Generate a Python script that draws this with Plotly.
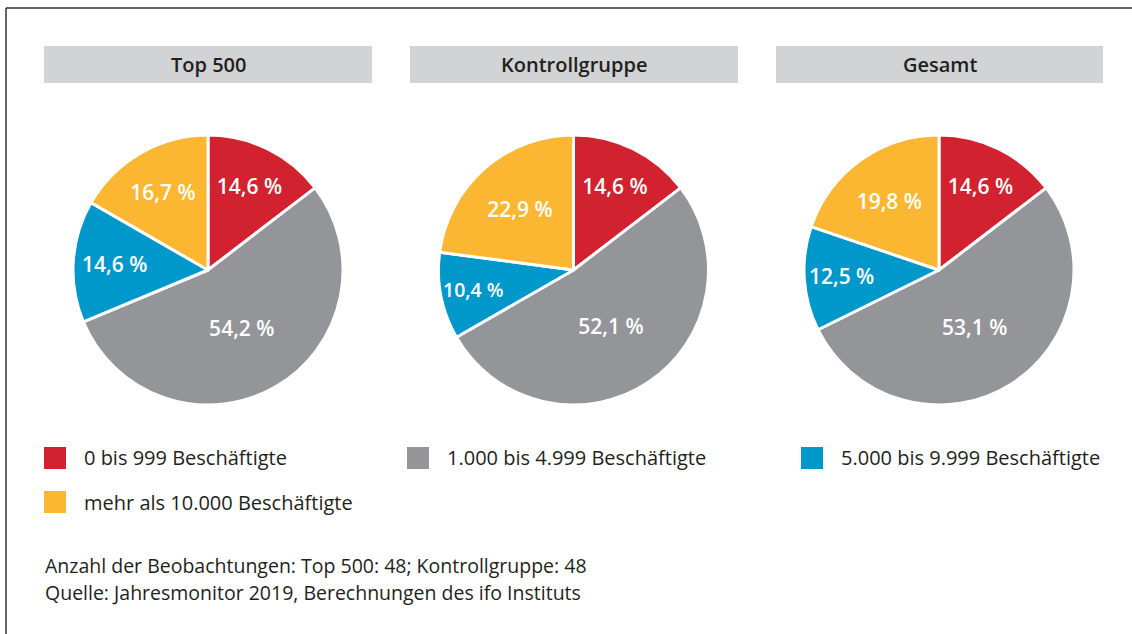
import plotly.graph_objects as go

groups = ["Top 500", "Kontrollgruppe", "Gesamt"]
categories = ["0 bis 999 Beschäftigte", "1.000 bis 4.999 Beschäftigte",
              "5.000 bis 9.999 Beschäftigte", "mehr als 10.000 Beschäftigte"]
top500 = [14.6, 54.2, 14.6, 16.7]
kontrollgruppe = [14.6, 52.1, 10.4, 22.9]
gesamt = [14.6, 53.1, 12.5, 19.8]
series = [top500, kontrollgruppe, gesamt]
colors = ["#d2222f", "#939598", "#0097cb", "#fbb731"]
footnotes = ["Anzahl der Beobachtungen: Top 500: 48; Kontrollgruppe: 48",
             "Quelle: Jahresmonitor 2019, Berechnungen des ifo Instituts"]

W, H = 1132, 634
FONT = "Open Sans"

def px(x):
    return x / W

def py(y):
    return 1 - y / H

fig = go.Figure()
centers = [208, 573.5, 939]
R = 135
cy = 270
for g, vals, cx in zip(groups, series, centers):
    fig.add_trace(go.Pie(
        labels=categories, values=vals, sort=False, direction="clockwise", rotation=0,
        marker=dict(colors=colors, line=dict(color="white", width=3)),
        texttemplate="%{value:.1f} %", textposition="inside",
        insidetextorientation="horizontal",
        textfont=dict(family=FONT, size=21, color="white", weight=600),
        domain=dict(x=[px(cx - R), px(cx + R)], y=[py(cy + R), py(cy - R)]),
        showlegend=False, hoverinfo="label+value", name=g,
    ))

shapes = []
annotations = []
# frame
shapes.append(dict(type="line", xref="paper", yref="paper", x0=px(6), x1=1.01, y0=py(8), y1=py(8),
                   line=dict(color="#333333", width=1.5)))
shapes.append(dict(type="line", xref="paper", yref="paper", x0=px(6), x1=px(6), y0=py(8), y1=-0.01,
                   line=dict(color="#333333", width=1.5)))
# header boxes
header_x = [(44, 372), (410, 738), (776, 1103)]
for g, (x0, x1) in zip(groups, header_x):
    shapes.append(dict(type="rect", xref="paper", yref="paper", x0=px(x0), x1=px(x1),
                       y0=py(83), y1=py(46), fillcolor="#d1d3d4", line=dict(width=0), layer="below"))
    annotations.append(dict(xref="paper", yref="paper", x=px((x0 + x1) / 2), y=py(64.5), text=g,
                            showarrow=False, xanchor="center", yanchor="middle",
                            font=dict(family=FONT, size=20, color="#231f20", weight=600)))
# legend
legend_pos = [(44, 458), (407, 458), (801, 458), (44, 502)]
for cat, col, (lx, ly) in zip(categories, colors, legend_pos):
    shapes.append(dict(type="rect", xref="paper", yref="paper", x0=px(lx), x1=px(lx + 22),
                       y0=py(ly + 11), y1=py(ly - 11), fillcolor=col, line=dict(width=0)))
    annotations.append(dict(xref="paper", yref="paper", x=px(lx + 38), y=py(ly), text=cat,
                            showarrow=False, xanchor="left", yanchor="middle",
                            font=dict(family=FONT, size=20, color="#231f20")))
for i, t in enumerate(footnotes):
    annotations.append(dict(xref="paper", yref="paper", x=px(43), y=py(565 + i * 27), text=t,
                            showarrow=False, xanchor="left", yanchor="middle",
                            font=dict(family=FONT, size=19.5, color="#231f20")))

fig.update_layout(width=W, height=H, margin=dict(l=0, r=0, t=0, b=0),
                  paper_bgcolor="white", plot_bgcolor="white", separators=",.",
                  shapes=shapes, annotations=annotations, showlegend=False)
fig.write_html("out.html", post_script="document.body.style.margin='0';",
               config={"displayModeBar": False})
